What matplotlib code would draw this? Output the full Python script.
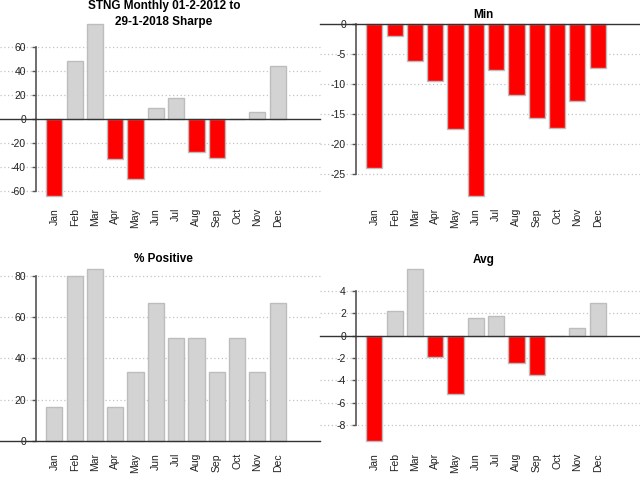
import numpy as np
import matplotlib.pyplot as plt

plt.rcParams['font.family'] = ['Liberation Sans', 'DejaVu Sans']
plt.rcParams['axes.unicode_minus'] = False

months = ['Jan', 'Feb', 'Mar', 'Apr', 'May', 'Jun', 'Jul', 'Aug', 'Sep', 'Oct', 'Nov', 'Dec']
sharpe = [-64.3, 48.0, 78.9, -33.4, -49.7, 9.1, 17.1, -27.6, -32.5, 0.0, 6.0, 43.6]
mins = [-23.9, -2.0, -6.1, -9.5, -17.5, -28.6, -7.6, -11.8, -15.6, -17.3, -12.8, -7.3]
pct_pos = [16.67, 80.0, 83.33, 16.67, 33.33, 66.67, 50.0, 50.0, 33.33, 50.0, 33.33, 66.67]
avg = [-9.44, 2.18, 5.99, -1.93, -5.18, 1.58, 1.76, -2.41, -3.48, 0.0, 0.71, 2.9]

sharpe_ticks = [-60, -40, -20, 0, 20, 40, 60]
min_ticks = [-25, -20, -15, -10, -5, 0]
pct_ticks = [0, 20, 40, 60, 80]
avg_ticks = [-8, -6, -4, -2, 0, 2, 4]

W, H = 640, 490


def panel(fig, px0, py0, values, title_lines, yticks):
    # plot region in pixels inside a 320x245 panel (R style layout)
    left, top, width, height = 36.4, 17, 255.8, 186
    ax = fig.add_axes([(px0 + left) / W, 1 - (py0 + top + height) / H, width / W, height / H])
    ax.patch.set_visible(False)

    x = 0.7 + 1.2 * np.arange(len(months))
    vals = np.array(values)
    colors = np.where(vals < 0, '#FF0000', '#D3D3D3')
    ax.bar(x, vals, width=0.96, color=colors, edgecolor='#BDBDBD', linewidth=1, zorder=2)

    lo, hi = min(vals.min(), 0), max(vals.max(), 0)
    pad = 0.04 * (hi - lo)
    ax.set_ylim(lo - pad, hi + pad)
    ax.set_xlim(-0.36, 14.76)

    # grid and zero line run over the whole panel width
    x0, x1 = -left / width, (320 - left) / width
    tr = ax.get_yaxis_transform()
    for t in yticks:
        if t == 0:
            continue
        ax.plot([x0, x1], [t, t], transform=tr, color='#C4C4C4', lw=0.9,
                ls=(0, (1, 2)), clip_on=False, zorder=1)
    ax.plot([x0, x1], [0, 0], transform=tr, color='#333333', lw=1.0, clip_on=False, zorder=3)

    for s in ['top', 'right', 'bottom']:
        ax.spines[s].set_visible(False)
    ax.spines['left'].set_bounds(min(yticks), max(yticks))
    ax.spines['left'].set_color('#555555')
    ax.spines['left'].set_linewidth(1.2)

    ax.set_yticks(yticks)
    ax.tick_params(axis='y', length=3, width=1, color='#555555', pad=4.5, labelsize=7.5, labelcolor='#222222')
    ax.set_xticks(x)
    ax.set_xticklabels(months, rotation=90)
    ax.tick_params(axis='x', length=0, pad=3.6, labelsize=7.5, labelcolor='#222222')

    # titles, baseline positions in pixels
    base = [8.6, 25.3] if len(title_lines) == 2 else [17.5]
    for line, b in zip(title_lines, base):
        fig.text((px0 + left + width / 2 - 0.5) / W, 1 - (py0 + b) / H, line,
                 ha='center', va='baseline', fontweight='bold', fontsize=8.5)
    return ax


fig = plt.figure(figsize=(6.4, 4.9), dpi=100)
panel(fig, 0, 0, sharpe, ['STNG Monthly 01-2-2012 to', '29-1-2018 Sharpe'], sharpe_ticks)
panel(fig, 320, 0, mins, ['Min'], min_ticks)
panel(fig, 0, 245, pct_pos, ['% Positive'], pct_ticks)
panel(fig, 320, 245, avg, ['Avg'], avg_ticks)

fig.savefig('out.png', dpi=100)
